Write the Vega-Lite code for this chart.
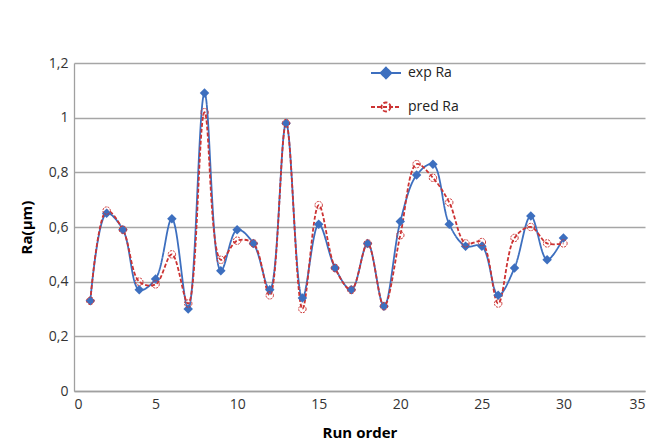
{
  "$schema": "https://vega.github.io/schema/vega-lite/v6.json",
  "width": 571,
  "height": 328,
  "autosize": "none",
  "padding": {"left": 74, "top": 63, "right": 13, "bottom": 50},
  "background": "white",
  "config": {
    "font": "Open Sans",
    "view": {"stroke": null}
  },
  "data": {
    "values": [
      {"run": 1, "series": "exp Ra", "ra": 0.33}, {"run": 1, "series": "pred Ra", "ra": 0.33},
      {"run": 2, "series": "exp Ra", "ra": 0.65}, {"run": 2, "series": "pred Ra", "ra": 0.66},
      {"run": 3, "series": "exp Ra", "ra": 0.59}, {"run": 3, "series": "pred Ra", "ra": 0.59},
      {"run": 4, "series": "exp Ra", "ra": 0.37}, {"run": 4, "series": "pred Ra", "ra": 0.40},
      {"run": 5, "series": "exp Ra", "ra": 0.41}, {"run": 5, "series": "pred Ra", "ra": 0.39},
      {"run": 6, "series": "exp Ra", "ra": 0.63}, {"run": 6, "series": "pred Ra", "ra": 0.50},
      {"run": 7, "series": "exp Ra", "ra": 0.30}, {"run": 7, "series": "pred Ra", "ra": 0.32},
      {"run": 8, "series": "exp Ra", "ra": 1.09}, {"run": 8, "series": "pred Ra", "ra": 1.02},
      {"run": 9, "series": "exp Ra", "ra": 0.44}, {"run": 9, "series": "pred Ra", "ra": 0.48},
      {"run": 10, "series": "exp Ra", "ra": 0.59}, {"run": 10, "series": "pred Ra", "ra": 0.55},
      {"run": 11, "series": "exp Ra", "ra": 0.54}, {"run": 11, "series": "pred Ra", "ra": 0.54},
      {"run": 12, "series": "exp Ra", "ra": 0.37}, {"run": 12, "series": "pred Ra", "ra": 0.35},
      {"run": 13, "series": "exp Ra", "ra": 0.98}, {"run": 13, "series": "pred Ra", "ra": 0.98},
      {"run": 14, "series": "exp Ra", "ra": 0.34}, {"run": 14, "series": "pred Ra", "ra": 0.30},
      {"run": 15, "series": "exp Ra", "ra": 0.61}, {"run": 15, "series": "pred Ra", "ra": 0.68},
      {"run": 16, "series": "exp Ra", "ra": 0.45}, {"run": 16, "series": "pred Ra", "ra": 0.45},
      {"run": 17, "series": "exp Ra", "ra": 0.37}, {"run": 17, "series": "pred Ra", "ra": 0.37},
      {"run": 18, "series": "exp Ra", "ra": 0.54}, {"run": 18, "series": "pred Ra", "ra": 0.54},
      {"run": 19, "series": "exp Ra", "ra": 0.31}, {"run": 19, "series": "pred Ra", "ra": 0.31},
      {"run": 20, "series": "exp Ra", "ra": 0.62}, {"run": 20, "series": "pred Ra", "ra": 0.57},
      {"run": 21, "series": "exp Ra", "ra": 0.79}, {"run": 21, "series": "pred Ra", "ra": 0.83},
      {"run": 22, "series": "exp Ra", "ra": 0.83}, {"run": 22, "series": "pred Ra", "ra": 0.78},
      {"run": 23, "series": "exp Ra", "ra": 0.61}, {"run": 23, "series": "pred Ra", "ra": 0.69},
      {"run": 24, "series": "exp Ra", "ra": 0.53}, {"run": 24, "series": "pred Ra", "ra": 0.54},
      {"run": 25, "series": "exp Ra", "ra": 0.53}, {"run": 25, "series": "pred Ra", "ra": 0.545},
      {"run": 26, "series": "exp Ra", "ra": 0.35}, {"run": 26, "series": "pred Ra", "ra": 0.32},
      {"run": 27, "series": "exp Ra", "ra": 0.45}, {"run": 27, "series": "pred Ra", "ra": 0.56},
      {"run": 28, "series": "exp Ra", "ra": 0.64}, {"run": 28, "series": "pred Ra", "ra": 0.60},
      {"run": 29, "series": "exp Ra", "ra": 0.48}, {"run": 29, "series": "pred Ra", "ra": 0.54},
      {"run": 30, "series": "exp Ra", "ra": 0.56}, {"run": 30, "series": "pred Ra", "ra": 0.54}
    ]
  },
  "encoding": {
    "x": {
      "field": "run", "type": "quantitative",
      "scale": {"domain": [0, 35], "nice": false},
      "axis": {
        "title": "Run order", "titleFontSize": 15, "titleFontWeight": "bold", "titleColor": "#000", "titlePadding": 14,
        "values": [0, 5, 10, 15, 20, 25, 30, 35], "grid": false, "ticks": false,
        "labelFontSize": 14, "labelColor": "#333", "labelPadding": 6,
        "domainColor": "#a0a0a0", "domainWidth": 1.3
      }
    },
    "y": {
      "field": "ra", "type": "quantitative",
      "scale": {"domain": [0, 1.2], "nice": false},
      "axis": {
        "title": "Ra(µm)", "titleFontSize": 15, "titleFontWeight": "bold", "titleColor": "#000", "titlePadding": 14,
        "values": [0, 0.2, 0.4, 0.6, 0.8, 1, 1.2], "ticks": false,
        "labelExpr": "replace(format(datum.value, '~g'), '.', ',')",
        "labelFontSize": 14, "labelColor": "#333", "labelPadding": 6,
        "grid": true, "gridColor": "#a6a6a6", "gridWidth": 1.3,
        "domainColor": "#a0a0a0", "domainWidth": 1.3
      }
    },
    "color": {
      "field": "series", "type": "nominal",
      "scale": {"domain": ["exp Ra", "pred Ra"], "range": ["#3d6fbf", "#cc3333"]},
      "legend": {
        "title": null, "orient": "none", "legendX": 296, "legendY": -6,
        "labelFontSize": 14, "labelColor": "#222", "symbolSize": 900, "rowPadding": 9, "labelOffset": 6,
        "encode": {
          "symbols": {
            "update": {
              "shape": {"signal": "datum.value === 'exp Ra' ? 'M-1,0H1M0,-0.36L0.36,0L0,0.36L-0.36,0Z' : 'M-1,0H1M0.3,0A0.3,0.3 0 1,1 -0.3,0A0.3,0.3 0 1,1 0.3,0Z'"},
              "strokeDash": {"signal": "datum.value === 'exp Ra' ? [1,0] : [4,2]"},
              "fill": {"signal": "datum.value === 'exp Ra' ? '#3d6fbf' : 'white'"},
              "fillOpacity": {"signal": "datum.value === 'exp Ra' ? 1 : 0"},
              "stroke": {"signal": "datum.value === 'exp Ra' ? '#3d6fbf' : '#cc3333'"},
              "strokeWidth": {"value": 1.8},
              "opacity": {"value": 1}
            }
          }
        }
      }
    }
  },
  "layer": [
    {
      "mark": {"type": "line", "interpolate": "catmull-rom", "strokeWidth": 1.8},
      "encoding": {
        "strokeDash": {
          "field": "series", "type": "nominal",
          "scale": {"domain": ["exp Ra", "pred Ra"], "range": [[1, 0], [4, 2]]},
          "legend": null
        }
      }
    },
    {
      "transform": [{"filter": "datum.series === 'exp Ra'"}],
      "mark": {"type": "point", "shape": "diamond", "filled": true, "size": 90, "opacity": 1}
    },
    {
      "transform": [{"filter": "datum.series === 'pred Ra'"}],
      "mark": {"type": "point", "shape": "circle", "filled": false, "fill": "white", "fillOpacity": 0, "size": 55, "strokeWidth": 1, "strokeDash": [2, 1], "opacity": 1}
    }
  ]
}
